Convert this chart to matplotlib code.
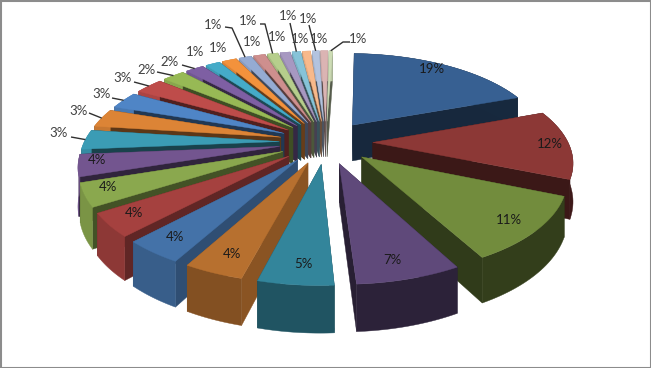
import numpy as np
import matplotlib
matplotlib.use('Agg')
import matplotlib.pyplot as plt
from matplotlib.patches import Rectangle

# values, the labels are the rounded ones shown
values = [19, 12, 11, 7, 5, 4, 4, 4, 4, 3.8, 3.4, 3.2, 3.0, 2.8, 2.2, 1.8,
          1.45, 1.45, 1.25, 1.15, 1.05, 1.0, 0.85, 0.8, 0.7, 0.7, 0.35]
labels = ['19%', '12%', '11%', '7%', '5%', '4%', '4%', '4%', '4%', '4%', '3%', '3%', '3%', '3%',
          '2%', '2%', '1%', '1%', '1%', '1%', '1%', '1%', '1%', '1%', '1%', '1%', '1%']

colors = ['#376092', '#8c3836', '#728c3d', '#5f497a', '#33859b', '#b7702f',
          '#4472a8', '#a5413f', '#8aa84e', '#73558f', '#3b9cb5', '#dc8436',
          '#4f85c6', '#be4c4a', '#97b955', '#7e5fa3', '#45abc8', '#f3923c',
          '#95abd3', '#ce8f8e', '#b6ce8c', '#a798c1', '#86c3d8', '#f8b98b',
          '#b3c3df', '#dbb4b3', '#cddcb5']

# label centres in pixels, same order as values
label_pos = [(432, 69), (550, 144), (509, 220), (392, 260), (303, 264), (232, 254),
             (175, 237), (134, 213), (108, 187), (97, 160), (59, 133), (79, 111),
             (102, 94), (123, 78), (147, 70), (170, 62), (195, 52), (218, 48),
             (213, 25), (252, 42), (248, 21), (277, 37), (288, 16), (300, 39),
             (308, 19), (319, 39), (358, 39)]

# leader start points (near the label), only for the slices that have one
leaders = {10: [(71, 137)], 11: [(89, 113)], 12: [(112, 98)], 13: [(134, 82)],
           14: [(157, 72)], 15: [(182, 65)],
           18: [(225, 27), (232, 28)], 20: [(260, 24), (265, 24)],
           22: [(290, 23)], 24: [(309, 25)],
           26: [(350, 42), (343, 42)]}

# projection of the pie
cx, cy = 326, 142
sx, sy = 195, 90
persp = 0.18
expl = 0.24
depth = 37
rot = np.radians(2)


def project(x, y, z=0):
    s = 1 / (1 + persp * y)
    return cx + sx * x * s, cy - sy * y * s + depth * z * s


def shade(color, f):
    rgb = np.array(matplotlib.colors.to_rgb(color))
    return tuple(rgb * f)


def wedge_walls(ax, a0, a1, col):
    mid = (a0 + a1) / 2
    ex, ey = expl * np.sin(mid), expl * np.cos(mid)
    t = np.linspace(a0, a1, 30)
    ox, oy = ex + np.sin(t), ey + np.cos(t)
    deg = np.degrees(mid)
    side_f = np.interp(deg, [0, 180, 200, 214, 228, 242, 257, 360],
                       [0.42, 0.42, 0.76, 0.7, 0.6, 0.5, 0.42, 0.42])
    out_f = np.interp(deg, [0, 162, 183, 200, 214, 228, 242, 257, 360],
                      [0.42, 0.45, 0.62, 0.7, 0.82, 0.85, 0.88, 0.9, 0.9])

    def poly(xs, ys, zs, c):
        px, py = project(np.array(xs), np.array(ys), np.array(zs))
        ax.fill(px, py, color=c, lw=0.3)

    # radial walls
    for i in (0, -1):
        poly([ex, ox[i], ox[i], ex], [ey, oy[i], oy[i], ey], [0, 0, 1, 1], shade(col, side_f))
    # outer wall
    poly(np.r_[ox, ox[::-1]], np.r_[oy, oy[::-1]], np.r_[np.zeros(30), np.ones(30)], shade(col, out_f))
    # top
    poly(np.r_[ex, ox], np.r_[ey, oy], np.zeros(31), col)


fig = plt.figure(figsize=(6.51, 3.68), dpi=100)
ax = fig.add_axes([0, 0, 1, 1])
ax.set_xlim(0, 651)
ax.set_ylim(368, 0)
ax.axis('off')

ang = rot + np.r_[0, np.cumsum(values)] / np.sum(values) * 2 * np.pi
mids = (ang[:-1] + ang[1:]) / 2

for i in np.argsort(-np.cos(mids)):
    wedge_walls(ax, ang[i], ang[i + 1], colors[i])

# leader lines go from the label to the outer edge of the slice
for i, pts in leaders.items():
    ex, ey = (1 + expl) * np.sin(mids[i]), (1 + expl) * np.cos(mids[i])
    end = project(ex, ey)
    xs = [p[0] for p in pts] + [end[0]]
    ys = [p[1] for p in pts] + [end[1]]
    ax.plot(xs, ys, color='#303030', lw=1.0, solid_capstyle='butt')

for i, lab in enumerate(labels):
    ax.text(label_pos[i][0], label_pos[i][1], lab, ha='center', va='center',
            fontsize=9.5, family='Lato', color='#1a1a1a' if i < 10 else '#404040')

ax.add_patch(Rectangle((0.5, 0.5), 650, 367, fill=False, ec='#8c8c8c', lw=1.5))

fig.savefig('out.png', dpi=100)
